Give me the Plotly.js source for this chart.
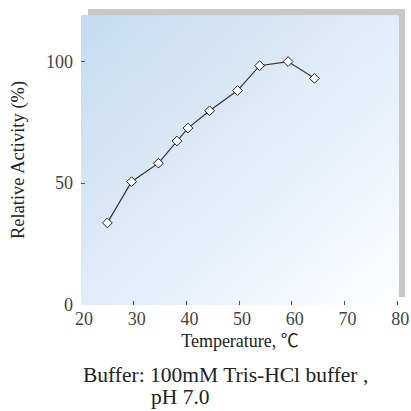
<!DOCTYPE html>
<html>
<head>
<meta charset="utf-8">
<script src="https://cdn.plot.ly/plotly-3.0.1.min.js"></script>
<style>
html,body{margin:0;padding:0;background:#fff;}
#chart{width:411px;height:411px;}
</style>
</head>
<body>
<div id="chart"></div>
<script>
// Data
var temperature = [25, 29.6, 34.7, 38.2, 40.3, 44.4, 49.7, 53.9, 59.3, 64.3];
var relativeActivity = [33.7, 50.6, 58.2, 67.3, 72.6, 79.7, 88, 98.2, 99.9, 93];
var xTickVals = [20, 30, 40, 50, 60, 70, 80];
var yTickVals = [0, 50, 100];
var xTitle = "Temperature, ℃";
var yTitle = "Relative Activity (%)";
var noteLine1 = "Buffer: 100mM Tris-HCl buffer ,";
var noteLine2 = "pH 7.0";

// layout geometry (pixels)
var W = 411, H = 411;
var L = 81, R = 12, T = 15, B = 106;
var pw = W - L - R, ph = H - T - B;
function px2x(p){ return (p - L) / pw; }
function px2y(p){ return (H - B - p) / ph; }

var serif = '"Liberation Serif", "Times New Roman", "Noto Sans CJK JP", serif';

var gradSvg = '<svg xmlns="http://www.w3.org/2000/svg" width="100" height="100" viewBox="0 0 100 100" preserveAspectRatio="none">' +
  '<defs><linearGradient id="g" x1="0" y1="0" x2="1" y2="1">' +
  '<stop offset="0" stop-color="#c3dbf0"/><stop offset="0.5" stop-color="#e1ecf8"/><stop offset="1" stop-color="#fdfeff"/>' +
  '</linearGradient></defs><rect x="0" y="0" width="100" height="100" fill="url(#g)"/></svg>';
var gradUri = 'data:image/svg+xml;charset=utf-8,' + encodeURIComponent(gradSvg);

// shadow L-shape (outside plot area, top and right strips)
var sx0 = px2x(88), sx1 = px2x(405), sy0 = px2y(9), sy1 = px2y(297);
var shadowPath = 'M ' + sx0 + ',1 L ' + sx0 + ',' + sy0 + ' L ' + sx1 + ',' + sy0 +
  ' L ' + sx1 + ',' + sy1 + ' L 1,' + sy1 + ' L 1,1 Z';

var trace = {
  x: temperature,
  y: relativeActivity,
  type: 'scatter',
  mode: 'lines+markers',
  line: {color: '#333333', width: 1.2},
  marker: {symbol: 'diamond', size: 7.5, color: '#ffffff', line: {color: '#222222', width: 1}},
  cliponaxis: false,
  hoverinfo: 'skip'
};

var layout = {
  width: W, height: H,
  margin: {l: L, r: R, t: T, b: B, pad: 0},
  paper_bgcolor: '#ffffff',
  plot_bgcolor: 'rgba(0,0,0,0)',
  showlegend: false,
  font: {family: serif, color: '#222'},
  xaxis: {
    range: [20, 80.35],
    tickvals: xTickVals,
    ticks: 'inside', ticklen: 4, tickwidth: 1, tickcolor: '#555',
    tickfont: {family: serif, size: 18, color: '#444'},
    ticklabelshift: 3,
    ticklabelstandoff: 1,
    showgrid: false, zeroline: false, showline: false,
    title: {text: xTitle, font: {family: serif, size: 18, color: '#222'}, standoff: 6}
  },
  yaxis: {
    range: [0, 119],
    tickvals: yTickVals,
    ticks: 'inside', ticklen: 4, tickwidth: 1, tickcolor: '#555',
    tickfont: {family: serif, size: 18, color: '#444'},
    ticklabelstandoff: 7,
    showgrid: false, zeroline: false, showline: false,
    title: {text: yTitle, font: {family: serif, size: 18.5, color: '#222'}, standoff: 16}
  },
  images: [{
    source: gradUri, xref: 'paper', yref: 'paper',
    x: 0, y: 1, sizex: 1, sizey: 1, sizing: 'stretch',
    xanchor: 'left', yanchor: 'top', layer: 'below'
  }],
  shapes: [{
    type: 'path', xref: 'paper', yref: 'paper', path: shadowPath,
    fillcolor: '#c8c8c8', line: {width: 0}, layer: 'below'
  }],
  annotations: [
    {text: noteLine1, xref: 'paper', yref: 'paper', x: px2x(81), y: px2y(375),
     xanchor: 'left', yanchor: 'middle', showarrow: false,
     font: {family: serif, size: 21.5, color: '#222'}},
    {text: noteLine2, xref: 'paper', yref: 'paper', x: px2x(149), y: px2y(397),
     xanchor: 'left', yanchor: 'middle', showarrow: false,
     font: {family: serif, size: 21.5, color: '#222'}}
  ]
};

Plotly.newPlot('chart', [trace], layout, {displayModeBar: false, staticPlot: true});
</script>
</body>
</html>
